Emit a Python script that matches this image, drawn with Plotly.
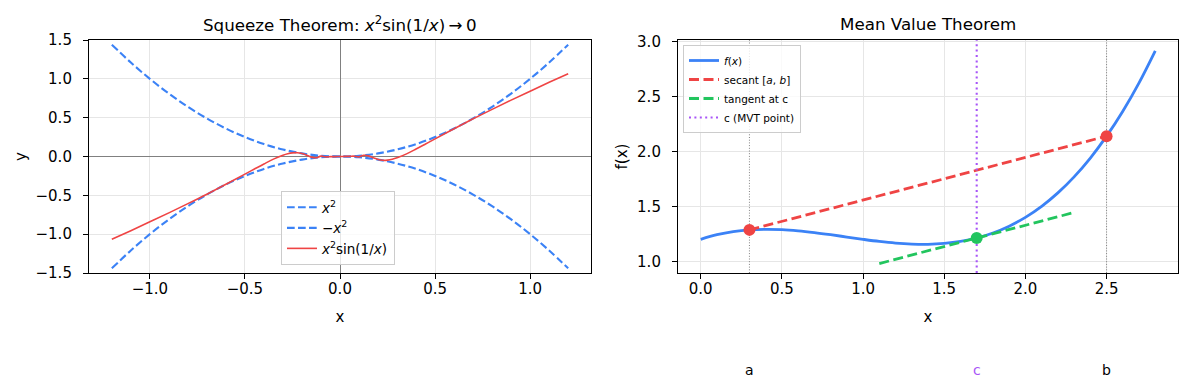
import plotly.graph_objects as go

# ---------------- Squeeze theorem data ----------------
sq_x = [-1.2, -1.1, -1.0, -0.9, -0.8, -0.7, -0.6, -0.5, -0.4, -0.3, -0.2, -0.1, 0.0,
        0.1, 0.2, 0.3, 0.4, 0.5, 0.6, 0.7, 0.8, 0.9, 1.0, 1.1, 1.2]
sq_upper = [1.44, 1.21, 1.00, 0.81, 0.64, 0.49, 0.36, 0.25, 0.16, 0.09, 0.04, 0.01, 0.0,
            0.01, 0.04, 0.09, 0.16, 0.25, 0.36, 0.49, 0.64, 0.81, 1.00, 1.21, 1.44]
sq_lower = [-1.44, -1.21, -1.00, -0.81, -0.64, -0.49, -0.36, -0.25, -0.16, -0.09, -0.04, -0.01, 0.0,
            -0.01, -0.04, -0.09, -0.16, -0.25, -0.36, -0.49, -0.64, -0.81, -1.00, -1.21, -1.44]

osc_x = [-1.2, -1.1, -1.0, -0.9, -0.8, -0.7, -0.6, -0.5, -0.45, -0.4, -0.35, -0.3, -0.275,
         -0.25, -0.225, -0.2, -0.175, -0.15, -0.125, -0.1, -0.075, -0.05, -0.025, 0.0,
         0.025, 0.05, 0.075, 0.1, 0.125, 0.15, 0.175, 0.2, 0.225, 0.25, 0.275, 0.3,
         0.35, 0.4, 0.45, 0.5, 0.6, 0.7, 0.8, 0.9, 1.0, 1.1, 1.2]
osc_y = [-1.066, -0.955, -0.841, -0.726, -0.607, -0.485, -0.358, -0.227, -0.161, -0.096,
         -0.034, 0.017, 0.036, 0.047, 0.049, 0.038, 0.017, -0.008, -0.016, 0.005, -0.004,
         -0.002, -0.001, 0.0,
         0.001, 0.002, 0.004, -0.005, 0.016, 0.008, -0.017, -0.038, -0.049, -0.047, -0.036,
         -0.017, 0.034, 0.096, 0.161, 0.227, 0.358, 0.485, 0.607, 0.726, 0.841, 0.955, 1.066]

sq_xticks = [-1.0, -0.5, 0.0, 0.5, 1.0]
sq_yticks = [-1.5, -1.0, -0.5, 0.0, 0.5, 1.0, 1.5]
sq_xrange = [-1.32, 1.32]
sq_yrange = [-1.5, 1.5]

# ---------------- Mean value theorem data ----------------
f_x = [0.0, 0.1, 0.2, 0.3, 0.4, 0.5, 0.6, 0.7, 0.8, 0.9, 1.0, 1.1, 1.2, 1.3, 1.4,
       1.5, 1.6, 1.7, 1.8, 1.9, 2.0, 2.1, 2.2, 2.3, 2.4, 2.5, 2.6, 2.7, 2.8]
f_y = [1.200, 1.242, 1.270, 1.286, 1.291, 1.288, 1.277, 1.261, 1.242, 1.221, 1.200,
       1.181, 1.166, 1.157, 1.155, 1.163, 1.181, 1.212, 1.258, 1.320, 1.400, 1.500,
       1.622, 1.768, 1.939, 2.138, 2.365, 2.623, 2.914]

a_x, b_x, c_x = 0.3, 2.5, 1.70
f_a, f_b, f_c = 1.286, 2.138, 1.212
secant_x = [a_x, b_x]
secant_y = [f_a, f_b]
tangent_x = [1.1, 2.3]
tangent_y = [0.980, 1.444]
point_labels = ["a", "c", "b"]

mvt_xticks = [0.0, 0.5, 1.0, 1.5, 2.0, 2.5]
mvt_yticks = [1.0, 1.5, 2.0, 2.5, 3.0]
mvt_xrange = [-0.14, 2.94]
mvt_yrange = [0.894, 3.012]

BLUE, RED, GREEN, PURPLE = "#3b82f6", "#ef4444", "#22c55e", "#a855f7"
FONT = "DejaVu Sans"

W, H = 1189, 390
ML, MR, MT, MB = 89, 11, 40, 117
PW, PH = W - ML - MR, H - MT - MB


def px_x(p):
    return (p - ML) / PW


def px_y(p):
    return (H - MB - p) / PH


fig = go.Figure()

# Left panel
fig.add_trace(go.Scatter(x=sq_x, y=sq_upper, mode="lines", name="<i>x</i><sup>2</sup>",
                         line=dict(color=BLUE, width=2.1, dash="7.7px,3.3px", shape="spline"),
                         xaxis="x", yaxis="y", legend="legend"))
fig.add_trace(go.Scatter(x=sq_x, y=sq_lower, mode="lines", name="\u2212<i>x</i><sup>2</sup>",
                         line=dict(color=BLUE, width=2.1, dash="7.7px,3.3px", shape="spline"),
                         xaxis="x", yaxis="y", legend="legend"))
fig.add_trace(go.Scatter(x=osc_x, y=osc_y, mode="lines",
                         name="<i>x</i><sup>2</sup>sin(1/<i>x</i>)",
                         line=dict(color=RED, width=1.6, shape="spline"),
                         xaxis="x", yaxis="y", legend="legend"))

# Right panel: reference lines at a and b (no legend)
for vx in (a_x, b_x):
    fig.add_trace(go.Scatter(x=[vx, vx], y=mvt_yrange, mode="lines", showlegend=False,
                             line=dict(color="#808080", width=1, dash="1px,1.7px"),
                             xaxis="x2", yaxis="y2", hoverinfo="skip"))

fig.add_trace(go.Scatter(x=f_x, y=f_y, mode="lines", name="<i>f</i>(<i>x</i>)",
                         line=dict(color=BLUE, width=2.8, shape="spline"),
                         xaxis="x2", yaxis="y2", legend="legend2"))
fig.add_trace(go.Scatter(x=secant_x, y=secant_y, mode="lines",
                         name="secant [<i>a</i>, <i>b</i>]",
                         line=dict(color=RED, width=2.8, dash="10px,4.5px"),
                         xaxis="x2", yaxis="y2", legend="legend2"))
fig.add_trace(go.Scatter(x=tangent_x, y=tangent_y, mode="lines", name="tangent at c",
                         line=dict(color=GREEN, width=2.8, dash="10px,4.5px"),
                         xaxis="x2", yaxis="y2", legend="legend2"))
fig.add_trace(go.Scatter(x=[c_x, c_x], y=mvt_yrange, mode="lines", name="c (MVT point)",
                         line=dict(color=PURPLE, width=2.1, dash="2px,3.4px"),
                         xaxis="x2", yaxis="y2", legend="legend2"))
fig.add_trace(go.Scatter(x=[a_x, b_x], y=[f_a, f_b], mode="markers", showlegend=False,
                         marker=dict(color=RED, size=12),
                         xaxis="x2", yaxis="y2"))
fig.add_trace(go.Scatter(x=[c_x], y=[f_c], mode="markers", showlegend=False,
                         marker=dict(color=GREEN, size=12),
                         xaxis="x2", yaxis="y2"))

annotations = [
    dict(text="Squeeze Theorem: <i>x</i><sup>2</sup>sin(1/<i>x</i>)\u2009\u2192\u20090",
         xref="paper", yref="paper", x=px_x(340), y=px_y(24), xanchor="center",
         yanchor="middle", showarrow=False, font=dict(size=16.7, color="black", family=FONT)),
    dict(text="Mean Value Theorem", xref="paper", yref="paper", x=px_x(928), y=px_y(24),
         xanchor="center", yanchor="middle", showarrow=False,
         font=dict(size=16.7, color="black", family=FONT)),
]
for lx, lab in zip([a_x, c_x, b_x], point_labels):
    annotations.append(dict(text=lab, xref="x2", yref="paper", x=lx, y=px_y(370),
                            xanchor="center", yanchor="middle", showarrow=False,
                            font=dict(size=14, family=FONT,
                                      color=PURPLE if lab == "c" else "black")))

axis_common = dict(showline=True, mirror=True, linecolor="black", linewidth=1.1,
                   ticks="outside", ticklen=5, tickwidth=1.1, tickcolor="black",
                   showgrid=True, gridcolor="#e6e6e6", gridwidth=0.8,
                   tickfont=dict(size=15, family=FONT, color="black"),
                   automargin=False, tickformat=".1f")

fig.update_layout(
    width=W, height=H,
    margin=dict(l=ML, r=MR, t=MT, b=MB, autoexpand=False),
    paper_bgcolor="white", plot_bgcolor="white",
    font=dict(family=FONT, color="black"),
    showlegend=True,
    xaxis=dict(domain=[0, px_x(591)], range=sq_xrange, tickvals=sq_xticks,
               zeroline=True, zerolinecolor="#808080", zerolinewidth=1.1,
               ticklabelstandoff=-3,
               title=dict(text="x", font=dict(size=15, family=FONT), standoff=14),
               anchor="y", **axis_common),
    yaxis=dict(domain=[0, 1], range=sq_yrange, tickvals=sq_yticks,
               zeroline=True, zerolinecolor="#808080", zerolinewidth=1.1,
               ticklabelstandoff=8,
               title=dict(text="y", font=dict(size=15, family=FONT), standoff=5),
               anchor="x", **axis_common),
    xaxis2=dict(domain=[px_x(678), 1], range=mvt_xrange, tickvals=mvt_xticks,
                zeroline=False, ticklabelstandoff=-3,
                title=dict(text="x", font=dict(size=15, family=FONT), standoff=14),
                anchor="y2", **axis_common),
    yaxis2=dict(domain=[0, 1], range=mvt_yrange, tickvals=mvt_yticks,
                zeroline=False, ticklabelstandoff=8,
                title=dict(text="f(x)", font=dict(size=15, family=FONT), standoff=5),
                anchor="x2", **axis_common),
    legend=dict(x=px_x(281), y=px_y(191), xanchor="left", yanchor="top",
                bgcolor="rgba(255,255,255,0.8)", bordercolor="#cccccc", borderwidth=1,
                font=dict(size=13.5, family=FONT), tracegroupgap=0),
    legend2=dict(x=px_x(683), y=px_y(45), xanchor="left", yanchor="top",
                 bgcolor="rgba(255,255,255,0.8)", bordercolor="#cccccc", borderwidth=1,
                 font=dict(size=10.5, family=FONT), tracegroupgap=0),
    annotations=annotations,
)

fig.write_html("out.html", config={"displayModeBar": False},
               post_script="document.body.style.margin='0px';")
